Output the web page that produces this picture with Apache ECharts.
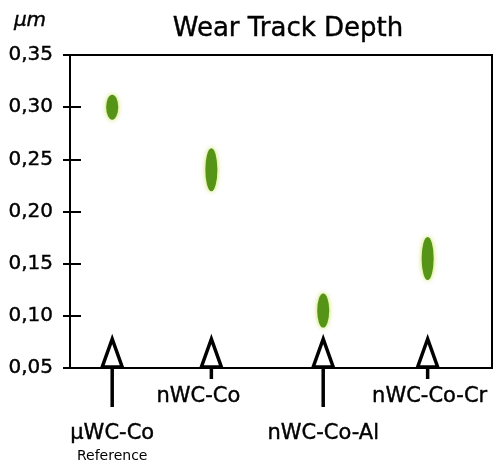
<!DOCTYPE html>
<html>
<head>
<meta charset="utf-8">
<script src="https://cdn.jsdelivr.net/npm/echarts@6/dist/echarts.min.js"></script>
<style>html,body{margin:0;padding:0;background:#fff;}#c{width:499px;height:461px;}</style>
</head>
<body>
<div id="c"></div>
<script>
// ---- data ----
const categories = ['μWC-Co', 'nWC-Co', 'nWC-Co-Al', 'nWC-Co-Cr'];
const subLabels = ['Reference', '', '', ''];
const categoryPos = [0.4, 1.34, 2.4, 3.39];
const depthValues = [0.300, 0.240, 0.105, 0.155];
const yTicks = [0.05, 0.10, 0.15, 0.20, 0.25, 0.30, 0.35];

// ---- styles ----
const FONT = 'DejaVu Sans';
const markerHeights = [25, 43, 34, 43];
const stemLong = [true, false, true, false];
const labelDx = [0, -13, 0, 2];

const chart = echarts.init(document.getElementById('c'), null, {renderer: 'canvas'});

const yMin = yTicks[0], yMax = yTicks[yTicks.length - 1];
const heavyText = {stroke: '#000', lineWidth: 0.4};

chart.setOption({
  animation: false,
  backgroundColor: '#fff',
  grid: {left: 70, right: 7, top: 55, bottom: 93, show: true, borderColor: '#000', borderWidth: 2, backgroundColor: 'transparent'},
  xAxis: {
    type: 'value', min: 0, max: 4,
    axisLine: {show: false}, axisTick: {show: false}, axisLabel: {show: false}, splitLine: {show: false}
  },
  yAxis: [{
    type: 'value', min: yMin, max: yMax, interval: 0.05,
    axisLine: {show: true, lineStyle: {color: '#000', width: 2}},
    axisTick: {show: true, length: 7, lineStyle: {color: '#000', width: 2}},
    axisLabel: {margin: 17, color: '#000', fontFamily: FONT, fontSize: 20, textBorderColor: '#000', textBorderWidth: 0.4,
      formatter: v => v.toFixed(2).replace('.', ',')},
    splitLine: {show: false}
  }, {
    type: 'value', min: yMin, max: yMax, interval: 0.05, position: 'left',
    axisLine: {show: false},
    axisTick: {show: true, inside: true, length: 11, lineStyle: {color: '#000', width: 2}},
    axisLabel: {show: false}, splitLine: {show: false}
  }],
  graphic: [
    {type: 'text', x: 288, y: 29, style: Object.assign({text: 'Wear Track Depth', fill: '#000', fontFamily: FONT, fontSize: 26, align: 'center', verticalAlign: 'middle'}, heavyText)},
    {type: 'text', x: 30, y: 21, style: Object.assign({text: 'μm', fill: '#000', fontFamily: FONT, fontSize: 20, fontStyle: 'italic', align: 'center', verticalAlign: 'middle'}, heavyText)}
  ],
  series: [{
    type: 'scatter',
    symbol: 'circle',
    data: depthValues.map((v, i) => ({value: [categoryPos[i], v], symbolSize: [12, markerHeights[i]]})),
    itemStyle: {color: '#559416', shadowColor: 'rgba(190,220,60,0.9)', shadowBlur: 5, opacity: 1},
    z: 3
  }, {
    type: 'custom',
    clip: false,
    silent: true,
    data: categoryPos.map((x, i) => [x, i]),
    renderItem: function (params, api) {
      const i = api.value(1);
      const p = api.coord([api.value(0), yMin]);
      const cx = p[0], by = p[1];
      const stem = stemLong[i] ? 39 : 11;
      const children = [
        {type: 'line', shape: {x1: cx, y1: by, x2: cx, y2: by + stem}, style: {stroke: '#000', lineWidth: 3.5}},
        {type: 'polygon', shape: {points: [[cx, by - 29], [cx - 10, by - 1], [cx + 10, by - 1]]}, style: {fill: '#fff', stroke: '#000', lineWidth: 3.5, lineJoin: 'miter'}}
      ];
      const ly = stemLong[i] ? by + 66 : by + 29;
      children.push({type: 'text', x: cx + labelDx[i], y: ly, style: Object.assign({text: categories[i], fill: '#000', fontFamily: FONT, fontSize: 21, align: 'center', verticalAlign: 'middle'}, heavyText)});
      if (subLabels[i]) {
        children.push({type: 'text', x: cx + labelDx[i], y: ly + 22, style: {text: subLabels[i], fill: '#000', fontFamily: FONT, fontSize: 14, align: 'center', verticalAlign: 'middle'}});
      }
      return {type: 'group', children: children};
    },
    z: 4
  }]
});
</script>
</body>
</html>
